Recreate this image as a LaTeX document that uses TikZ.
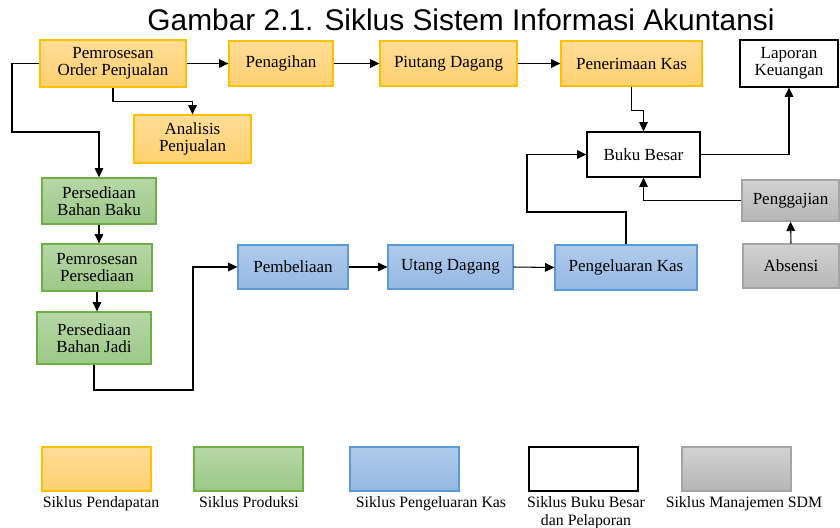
\documentclass[tikz,border=0pt]{standalone}
\usepackage{fontspec}
\setmainfont{Liberation Serif}
\newfontfamily\judulfont{Liberation Sans}
\usepackage{xcolor}
\usetikzlibrary{arrows.meta}
\definecolor{oranyeTepi}{RGB}{255,192,0}
\definecolor{oranyeAtas}{RGB}{255,220,150}
\definecolor{oranyeBawah}{RGB}{254,208,112}
\definecolor{hijauTepi}{RGB}{112,173,71}
\definecolor{hijauAtas}{RGB}{182,215,166}
\definecolor{hijauBawah}{RGB}{156,200,135}
\definecolor{biruTepi}{RGB}{91,155,213}
\definecolor{biruAtas}{RGB}{176,203,235}
\definecolor{biruBawah}{RGB}{148,184,227}
\definecolor{abuTepi}{RGB}{165,165,165}
\definecolor{abuAtas}{RGB}{210,210,210}
\definecolor{abuBawah}{RGB}{182,182,182}

\begin{document}
\begin{tikzpicture}[x=0.03cm,y=-0.03cm,
  kotak/.style={draw, line width=1.1pt, align=center, inner sep=0.75pt, font=\fontsize{14.5}{14.5}\selectfont},
  pendapatan/.style={kotak, draw=oranyeTepi, top color=oranyeAtas, bottom color=oranyeBawah},
  produksi/.style={kotak, draw=hijauTepi, top color=hijauAtas, bottom color=hijauBawah},
  pengeluaran/.style={kotak, draw=biruTepi, top color=biruAtas, bottom color=biruBawah},
  bukubesar/.style={kotak, draw=black, fill=white},
  sdm/.style={kotak, draw=abuTepi, top color=abuAtas, bottom color=abuBawah},
  keterangan/.style={anchor=north, align=center, inner sep=0.75pt, font=\fontsize{13.5}{15.3}\selectfont},
  panah/.style={-{Triangle[length=2.8mm,width=2.6mm]}, line width=0.9pt}]
\useasboundingbox (0,0) rectangle (840,527);

\node (judul) at (461,30) [anchor=base] {\judulfont\fontsize{25.5}{28}\selectfont Gambar 2.1. Siklus Sistem Informasi Akuntansi};

\node (orderJual) at (113,63.5) [pendapatan, minimum width=4.38cm, minimum height=1.41cm] {Pemrosesan\\Order Penjualan};
\node (tagih) at (281,63.5) [pendapatan, minimum width=3.12cm, minimum height=1.35cm] {Penagihan};
\node (piutang) at (448.5,63.5) [pendapatan, minimum width=4.11cm, minimum height=1.35cm] {Piutang Dagang};
\node (terimaKas) at (631.5,63.5) [pendapatan, minimum width=4.23cm, minimum height=1.35cm] {Penerimaan Kas};
\node (analisis) at (192.5,139) [pendapatan, minimum width=3.51cm, minimum height=1.44cm] {Analisis\\Penjualan};
\node (laporan) at (789,63.5) [bukubesar, minimum width=2.94cm, minimum height=1.41cm] {Laporan\\Keuangan};
\node (bukuBesar) at (643.5,154.5) [bukubesar, minimum width=3.39cm, minimum height=1.35cm] {Buku Besar};
\node (gaji) at (790.5,200.5) [sdm, minimum width=2.91cm, minimum height=1.23cm] {Penggajian};
\node (absensi) at (791,266) [sdm, minimum width=2.88cm, minimum height=1.32cm] {Absensi};
\node (bahanBaku) at (99,201) [produksi, minimum width=3.42cm, minimum height=1.38cm] {Persediaan\\Bahan Baku};
\node (prosesSedia) at (97,267.5) [produksi, minimum width=3.30cm, minimum height=1.41cm] {Pemrosesan\\Persediaan};
\node (bahanJadi) at (94,338) [produksi, minimum width=3.42cm, minimum height=1.56cm] {Persediaan\\Bahan Jadi};
\node (beli) at (293,267) [pengeluaran, minimum width=3.30cm, minimum height=1.32cm] {Pembeliaan};
\node (utang) at (450.5,267) [pengeluaran, minimum width=3.75cm, minimum height=1.32cm] {Utang Dagang};
\node (keluarKas) at (626,267.5) [pengeluaran, minimum width=4.26cm, minimum height=1.35cm] {Pengeluaran Kas};

\coordinate (belokKiri) at (12,132);
\coordinate (belokJadi) at (193,390);
\coordinate (belokKeluar) at (527,212);

\draw [panah] (orderJual.east) -- (tagih.west);
\draw [panah] (tagih.east) -- (piutang.west);
\draw [panah] (piutang.east) -- (terimaKas.west);
\draw [panah] (orderJual.south) -- ++(0,14) -| (analisis.north);
\draw [panah] (orderJual.west) -| (belokKiri) -| (bahanBaku.north);
\draw [panah] (bahanBaku.south) -- (bahanBaku.south |- prosesSedia.north);
\draw [panah] (prosesSedia.south) -- (prosesSedia.south |- bahanJadi.north);
\draw [panah] (bahanJadi.south) |- (belokJadi) |- (beli.west);
\draw [panah] (beli.east) -- (utang.west);
\draw [panah] (utang.east) -- (keluarKas.west);
\draw [panah] (keluarKas.north) |- (belokKeluar) |- (bukuBesar.west);
\draw [panah] (terimaKas.south) -- ++(0,24) -| (bukuBesar.north);
\draw [panah] (bukuBesar.east) -| (laporan.south);
\draw [panah] (gaji.west) -| (bukuBesar.south);
\draw [panah] (absensi.north) -- (gaji.south);

\node (ketPendapatan) at (96.5,469) [pendapatan, minimum width=3.27cm, minimum height=1.32cm] {};
\node (ketProduksi) at (248.5,469) [produksi, minimum width=3.27cm, minimum height=1.32cm] {};
\node (ketPengeluaran) at (404.5,469) [pengeluaran, minimum width=3.27cm, minimum height=1.32cm] {};
\node (ketBukuBesar) at (583.5,469) [bukubesar, minimum width=3.27cm, minimum height=1.32cm] {};
\node (ketSdm) at (736.5,469) [sdm, minimum width=3.27cm, minimum height=1.32cm] {};

\node (lblPendapatan) at (101,495) [keterangan] {Siklus Pendapatan};
\node (lblProduksi) at (249,495) [keterangan] {Siklus Produksi};
\node (lblPengeluaran) at (431,495) [keterangan] {Siklus Pengeluaran Kas};
\node (lblBukuBesar) at (586,495) [keterangan] {Siklus Buku Besar\\dan Pelaporan};
\node (lblSdm) at (744,495) [keterangan] {Siklus Manajemen SDM};
\end{tikzpicture}
\end{document}
